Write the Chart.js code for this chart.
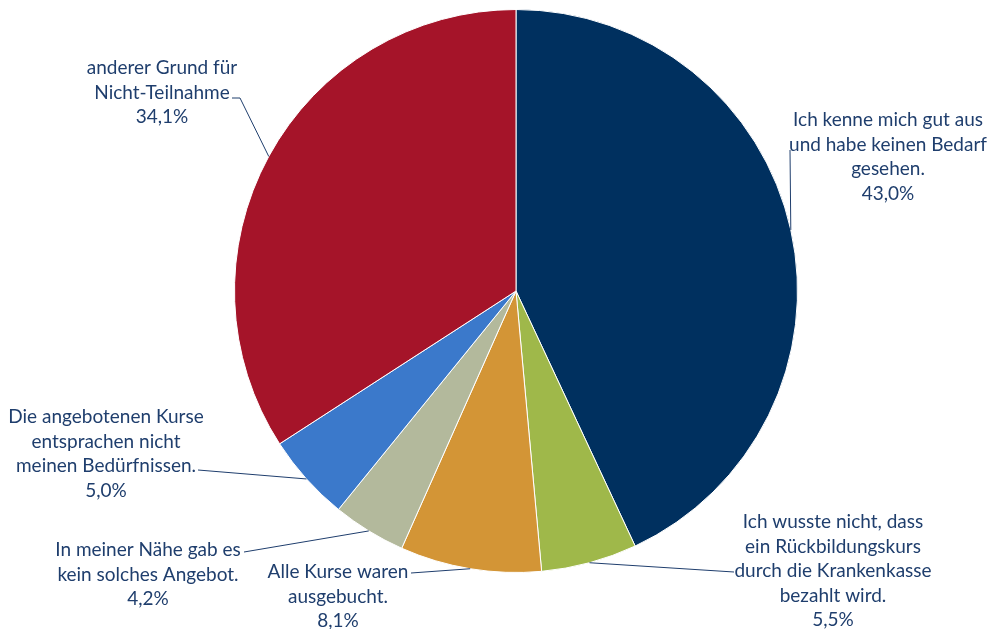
<!DOCTYPE html>
<html>
<head>
<meta charset="utf-8">
<script src="https://cdn.jsdelivr.net/npm/chart.js@4"></script>
<style>
  html, body { margin: 0; padding: 0; background: #fff; }
  #wrap { width: 988px; height: 629px; position: relative; }
</style>
</head>
<body>
<div id="wrap"><canvas id="pieChart" width="988" height="629"></canvas></div>
<script>
const labels = [
  "Ich kenne mich gut aus und habe keinen Bedarf gesehen.",
  "Ich wusste nicht, dass ein Rückbildungskurs durch die Krankenkasse bezahlt wird.",
  "Alle Kurse waren ausgebucht.",
  "In meiner Nähe gab es kein solches Angebot.",
  "Die angebotenen Kurse entsprachen nicht meinen Bedürfnissen.",
  "anderer Grund für Nicht-Teilnahme",
];
const values = [43.0, 5.5, 8.1, 4.2, 5.0, 34.1];
const colors = ["#00305f", "#9fb84a", "#d39536", "#b3b99c", "#3b79cb", "#a51429"];

// label text split into lines as in the picture
const labelLines = [
  ["Ich kenne mich gut aus", "und habe keinen Bedarf", "gesehen."],
  ["Ich wusste nicht, dass", "ein Rückbildungskurs", "durch die Krankenkasse", "bezahlt wird."],
  ["Alle Kurse waren", "ausgebucht."],
  ["In meiner Nähe gab es", "kein solches Angebot."],
  ["Die angebotenen Kurse", "entsprachen nicht", "meinen Bedürfnissen."],
  ["anderer Grund für", "Nicht-Teilnahme"],
];

// where each label block sits and where its leader line ends
const labelPos = [
  { x: 888, y: 120, leader: [[790, 150]] },
  { x: 833, y: 522, leader: [[734, 572]] },
  { x: 338, y: 572, leader: [[411, 573]] },
  { x: 148, y: 550, leader: [[244, 552]] },
  { x: 106, y: 417, leader: [[198, 470]] },
  { x: 162, y: 68, leader: [[240, 98], [232, 98]] },
];

const textColor = "#1f3e6d";
const fmt = (v) => v.toFixed(1).replace(".", ",") + "%";

const labelPlugin = {
  id: "outLabels",
  afterDatasetsDraw(chart) {
    const c = chart.ctx;
    const arcs = chart.getDatasetMeta(0).data;
    c.save();
    c.strokeStyle = textColor;
    c.lineWidth = 1;
    arcs.forEach((arc, i) => {
      const p = arc.getProps(["x", "y", "startAngle", "endAngle", "outerRadius"], true);
      const mid = (p.startAngle + p.endAngle) / 2;
      const ex = p.x + Math.cos(mid) * p.outerRadius;
      const ey = p.y + Math.sin(mid) * p.outerRadius;
      c.beginPath();
      c.moveTo(ex, ey);
      labelPos[i].leader.forEach(([lx, ly]) => c.lineTo(lx, ly));
      c.stroke();
    });
    c.fillStyle = textColor;
    c.font = "19px Lato";
    c.textAlign = "center";
    c.textBaseline = "middle";
    labelPos.forEach((pos, i) => {
      const lines = labelLines[i].concat([fmt(values[i])]);
      lines.forEach((t, k) => c.fillText(t, pos.x, pos.y + k * 24.5));
    });
    c.restore();
  },
};

new Chart(document.getElementById("pieChart"), {
  type: "pie",
  data: {
    labels: labels,
    datasets: [{
      data: values,
      backgroundColor: colors,
      borderColor: "#ffffff",
      borderWidth: 1,
    }],
  },
  options: {
    responsive: false,
    animation: false,
    layout: { padding: { left: 234, right: 190, top: 9, bottom: 56 } },
    plugins: {
      legend: { display: false },
      tooltip: { enabled: false },
    },
  },
  plugins: [labelPlugin],
});
</script>
</body>
</html>
